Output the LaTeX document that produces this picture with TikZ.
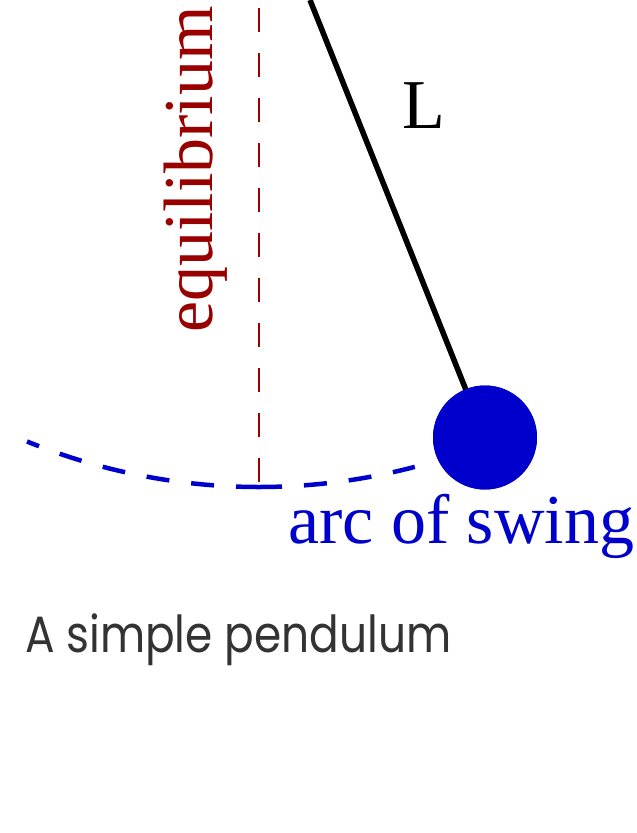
\documentclass[tikz,border=0pt]{standalone}
\usepackage{fontspec}
\setmainfont{Liberation Serif}
\newfontfamily\capfont{Poppins}
\definecolor{eqred}{RGB}{153,0,0}
\definecolor{bobblue}{RGB}{0,0,204}
\definecolor{capgray}{RGB}{51,51,51}
\begin{document}
\begin{tikzpicture}[x=1pt,y=-1pt,
  eqline/.style={eqred, line width=2.5pt, dash pattern=on 24pt off 21pt},
  swingarc/.style={bobblue, line width=4.5pt, dash pattern=on 23pt off 22pt},
  rod/.style={black, line width=5.5pt},
  serifbig/.style={font=\fontsize{70}{80}\selectfont, inner sep=0pt}]
\useasboundingbox[fill=white] (0,0) rectangle (637,833);
\coordinate (top) at (259,8);
\coordinate (bottom) at (259,487);
\coordinate (rodtop) at (310,0);
\draw[eqline] (top) -- (bottom);
\draw[swingarc] (bottom) arc[start angle=90, end angle=112.2, radius=614];
\draw[swingarc] (bottom) arc[start angle=90, end angle=75.3, radius=614];
\node[circle, fill=bobblue, minimum size=104pt, inner sep=0pt] (bob) at (485,437.5) {};
\draw[rod] (rodtop) -- (bob.center);
\node[circle, fill=bobblue, minimum size=104pt, inner sep=0pt] (bobfront) at (bob.center) {};
\node[serifbig, eqred, rotate=90, anchor=base west] (eq) at (212,333) {equilibrium};
\node[serifbig, anchor=base west] (L) at (402,128) {L};
\node[serifbig, bobblue, anchor=base west] (arc) at (288,543) {arc of swing};
\node[font=\capfont\fontsize{51}{60}\selectfont, capgray, anchor=base west, inner sep=0pt, xscale=0.86] (cap) at (25,652) {A simple pendulum};
\end{tikzpicture}
\end{document}
